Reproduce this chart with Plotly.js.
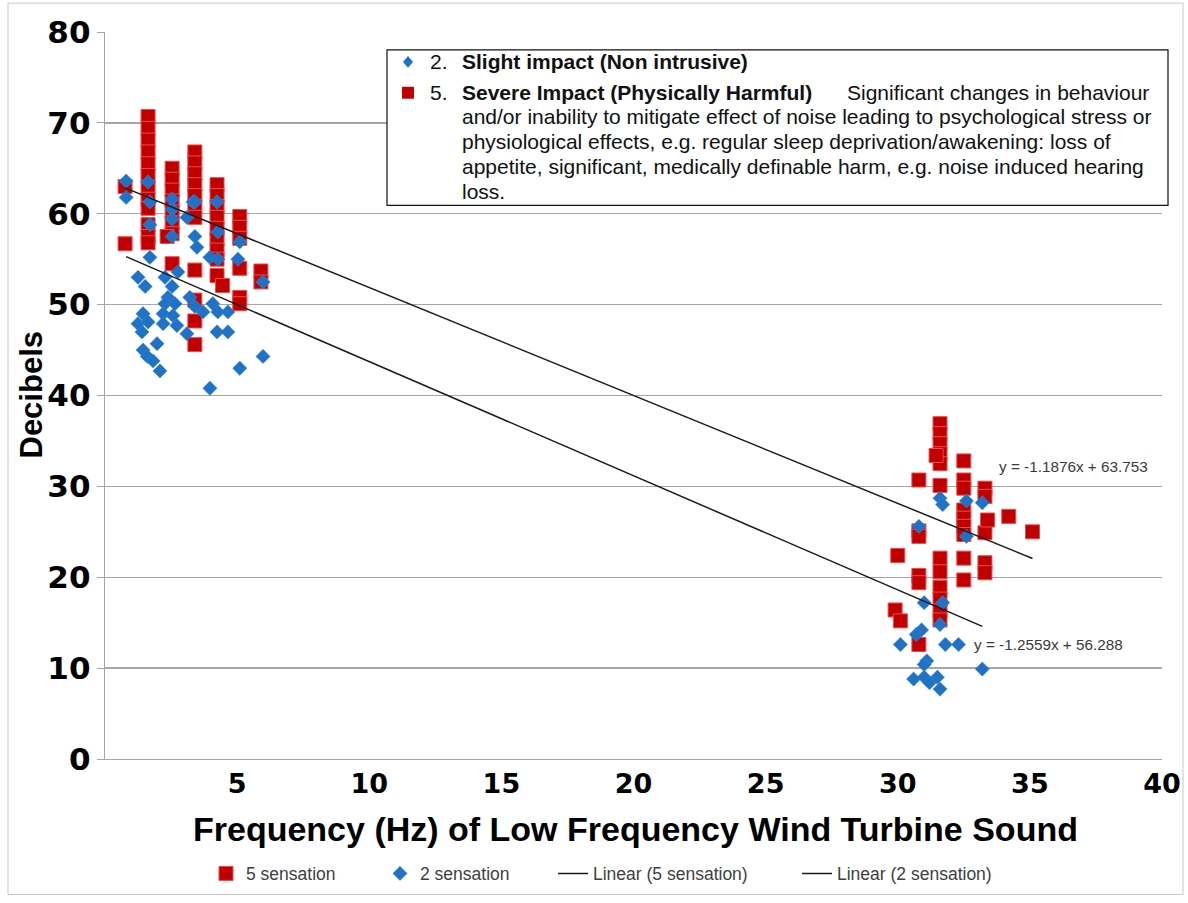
<!DOCTYPE html>
<html>
<head>
<meta charset="utf-8">
<script src="https://cdn.plot.ly/plotly-3.0.1.min.js"></script>
<style>html,body{margin:0;padding:0;background:#fff;}#chart{width:1188px;height:903px;}</style>
</head>
<body>
<div id="chart"></div>
<script>
// ---------- DATA ----------
const sensation5X = [
  0.76, 0.76,
  1.63, 1.63, 1.63, 1.63, 1.63, 1.63, 1.63, 1.63, 1.63, 1.63, 1.63, 1.63,
  2.54, 2.54, 2.54, 2.54, 2.54, 2.54, 2.54, 2.54, 2.35,
  3.40, 3.40, 3.40, 3.40, 3.40, 3.40, 3.40, 3.40, 3.40, 3.40, 3.40,
  4.24, 4.24, 4.24, 4.24, 4.24, 4.24, 4.24, 4.24, 4.24, 4.45,
  5.10, 5.10, 5.10, 5.10, 5.10, 5.10,
  5.90, 5.90,
  30.0, 29.9, 30.1,
  30.8, 30.8, 30.8, 30.8, 30.8, 30.8,
  31.6, 31.6, 31.6, 31.6, 31.6, 31.6, 31.6, 31.6, 31.6, 31.6, 31.6, 31.6, 31.45,
  32.5, 32.5, 32.5, 32.5, 32.5, 32.5, 32.5, 32.5, 32.5,
  33.3, 33.3, 33.3, 33.3, 33.3, 33.4,
  34.2, 35.1
];
const sensation5Y = [
  63.0, 56.7,
  70.7, 69.4, 68.1, 66.8, 65.5, 64.2, 62.9, 61.6, 60.6, 58.8, 57.5, 56.8,
  65.0, 63.8, 62.6, 61.4, 60.2, 59.0, 57.8, 54.5, 57.5,
  66.8, 65.6, 64.4, 63.2, 62.0, 60.8, 59.6, 53.8, 50.5, 48.2, 45.6,
  63.2, 62.0, 60.8, 59.6, 58.4, 57.2, 56.0, 55.0, 53.2, 52.1,
  59.7, 58.5, 57.3, 54.0, 50.8, 50.1,
  53.7, 52.5,
  22.4, 16.4, 15.2,
  30.7, 25.1, 24.5, 20.2, 19.4, 12.6,
  36.9, 35.8, 34.7, 33.6, 32.5, 30.1, 22.1, 20.6, 18.9, 17.6, 16.3, 15.3, 33.4,
  32.8, 30.7, 29.8, 27.4, 26.5, 25.6, 24.7, 22.1, 19.7,
  29.8, 28.9, 24.9, 21.6, 20.5, 26.3,
  26.7, 25.0
];
const sensation2X = [
  0.80, 0.80,
  1.63, 1.70, 1.70, 1.70,
  1.25, 1.52, 1.44, 1.40, 1.44, 1.60, 1.82, 2.08, 1.97, 1.25, 1.63,
  2.54, 2.54, 2.54, 3.10, 3.33, 2.54,
  2.27, 2.76, 2.54, 2.38, 2.27, 2.65, 2.20, 2.57, 2.20, 2.72, 3.10,
  3.40, 4.24, 3.40, 4.27, 5.10,
  3.48, 3.97, 4.27, 5.03, 3.21, 3.40, 3.71, 4.08, 4.27, 4.65, 4.24, 4.65, 5.98, 5.98, 5.10, 3.97,
  31.6, 31.7, 32.6, 33.2, 30.8, 32.6, 31.0, 31.7, 31.6, 30.9, 30.7, 30.1, 31.8, 32.3,
  31.1, 31.0, 33.2, 30.6, 31.0, 31.2, 31.5, 31.6
];
const sensation2Y = [
  63.6, 61.8,
  63.5, 61.3, 58.8, 55.2,
  53.0, 52.0, 49.0, 47.0, 45.0, 44.3, 43.8, 42.7, 45.7, 47.9, 48.1,
  61.6, 60.5, 59.4, 59.6, 61.3, 57.5,
  53.0, 53.6, 52.0, 50.8, 50.1, 50.1, 49.0, 48.8, 47.9, 47.7, 46.8,
  61.3, 61.3, 57.5, 58.0, 56.9,
  56.3, 55.2, 55.0, 55.0, 50.8, 49.8, 49.2, 50.1, 49.2, 49.2, 47.0, 47.0, 52.5, 44.3, 43.0, 40.8,
  28.7, 28.0, 28.4, 28.2, 25.6, 24.5, 17.2, 17.2, 14.8, 14.2, 13.7, 12.6, 12.6, 12.6,
  10.8, 10.4, 9.9, 8.8, 9.0, 8.4, 9.0, 7.7
];
// Trend line coefficients (as printed on chart)
const fit5 = {slope: -1.1876, intercept: 63.753};
const fit2 = {slope: -1.2559, intercept: 56.288};
const fit5Label = 'y = -1.1876x + 63.753';
const fit2Label = 'y = -1.2559x + 56.288';
const xTicks = [5, 10, 15, 20, 25, 30, 35, 40];
const xTitle = 'Frequency (Hz) of Low Frequency Wind Turbine Sound';
const yTitle = 'Decibels';
const seriesNames = ['5 sensation', '2 sensation', 'Linear (5 sensation)', 'Linear (2 sensation)'];
const boxLine1 = ['2.', 'Slight impact (Non intrusive)'];
const boxLine2 = ['5.', 'Severe Impact (Physically Harmful)', 'Significant changes in behaviour'];
const boxMore = [
  'and/or inability to mitigate effect of noise leading to psychological stress or',
  'physiological effects, e.g. regular sleep deprivation/awakening: loss of',
  'appetite, significant, medically definable harm, e.g. noise induced hearing',
  'loss.'
];

// ---------- LAYOUT HELPERS ----------
const W = 1188, H = 903;
const M = {l: 105, r: 26, t: 32, b: 141};
const PW = W - M.l - M.r, PH = H - M.t - M.b;
const px = v => (v - M.l) / PW;           // pixel x -> paper
const py = v => (H - M.b - v) / PH;       // pixel y -> paper

function fitLine(xs, f) {
  const lo = Math.min(...xs), hi = Math.max(...xs);
  return {x: [lo, hi], y: [f.slope * lo + f.intercept, f.slope * hi + f.intercept]};
}
const l5 = fitLine(sensation5X, fit5);
const l2 = fitLine(sensation2X, fit2);

const red = '#C00000', blue = '#1F72C6';

const traces = [
  {x: sensation5X, y: sensation5Y, name: seriesNames[0], type: 'scatter', mode: 'markers', legend: 'legend',
   marker: {symbol: 'square', size: 14, color: red, line: {color: '#F04848', width: 1}}},
  {x: sensation2X, y: sensation2Y, name: seriesNames[1], type: 'scatter', mode: 'markers', legend: 'legend2',
   marker: {symbol: 'diamond', size: 11, color: blue, line: {color: '#3C8AD8', width: 0.5}}},
  {x: l5.x, y: l5.y, name: seriesNames[2], type: 'scatter', mode: 'lines', legend: 'legend3',
   line: {color: '#1a1a1a', width: 1.5}},
  {x: l2.x, y: l2.y, name: seriesNames[3], type: 'scatter', mode: 'lines', legend: 'legend4',
   line: {color: '#1a1a1a', width: 1.5}}
];

const boxFont = {family: 'Liberation Sans, Arial, sans-serif', size: 21, color: '#111'};
const rows = [62, 93, 117, 142, 167, 192];
const labFont = {family: 'Liberation Sans, Arial, sans-serif', size: 15.3, color: '#3a3a3a'};
const titleFont = {family: 'Liberation Sans, Arial, sans-serif', size: 31, color: '#000'};
const annotations = [
  {xref: 'paper', yref: 'paper', x: px(428), y: py(rows[0]), xanchor: 'left', yanchor: 'middle', showarrow: false, text: boxLine1[0], font: boxFont},
  {xref: 'paper', yref: 'paper', x: px(460), y: py(rows[0]), xanchor: 'left', yanchor: 'middle', showarrow: false, text: '<b>' + boxLine1[1] + '</b>', font: boxFont},
  {xref: 'paper', yref: 'paper', x: px(428), y: py(rows[1]), xanchor: 'left', yanchor: 'middle', showarrow: false, text: boxLine2[0], font: boxFont},
  {xref: 'paper', yref: 'paper', x: px(460), y: py(rows[1]), xanchor: 'left', yanchor: 'middle', showarrow: false, text: '<b>' + boxLine2[1] + '</b>', font: boxFont},
  {xref: 'paper', yref: 'paper', x: px(845), y: py(rows[1]), xanchor: 'left', yanchor: 'middle', showarrow: false, text: boxLine2[2], font: boxFont},
  {xref: 'x', yref: 'y', x: 33.75, y: 32.2, xanchor: 'left', yanchor: 'middle', showarrow: false, text: fit5Label, font: labFont},
  {xref: 'x', yref: 'y', x: 32.8, y: 12.6, xanchor: 'left', yanchor: 'middle', showarrow: false, text: fit2Label, font: labFont},
  {xref: 'paper', yref: 'paper', x: px(32), y: py(396), xanchor: 'center', yanchor: 'middle', showarrow: false,
   textangle: -90, text: '<b>' + yTitle + '</b>', font: titleFont},
  {xref: 'paper', yref: 'paper', x: px(635), y: py(832), xanchor: 'center', yanchor: 'middle', showarrow: false,
   text: '<b>' + xTitle + '</b>', font: Object.assign({}, titleFont, {size: 34})}
];
boxMore.forEach((t, i) => annotations.push({xref: 'paper', yref: 'paper', x: px(460), y: py(rows[i + 2]),
  xanchor: 'left', yanchor: 'middle', showarrow: false, text: t, font: boxFont}));

const dx = 408, dy = rows[0];
const shapes = [
  {type: 'rect', xref: 'paper', yref: 'paper', x0: px(8), x1: px(1183), y0: py(3), y1: py(898),
   line: {color: '#c8c8c8', width: 1}, fillcolor: 'rgba(0,0,0,0)', layer: 'below'},
  {type: 'rect', xref: 'paper', yref: 'paper', x0: px(387), x1: px(1168), y0: py(50), y1: py(206),
   line: {color: '#111', width: 1.2}, fillcolor: '#ffffff', layer: 'above'},
  {type: 'path', xref: 'paper', yref: 'paper',
   path: `M ${px(dx)} ${py(dy - 6)} L ${px(dx + 5)} ${py(dy)} L ${px(dx)} ${py(dy + 6)} L ${px(dx - 5)} ${py(dy)} Z`,
   fillcolor: blue, line: {width: 0}, layer: 'above'},
  {type: 'rect', xref: 'paper', yref: 'paper', x0: px(402), x1: px(414), y0: py(rows[1] - 6), y1: py(rows[1] + 6),
   fillcolor: red, line: {width: 0}, layer: 'above'}
];

const legFont = {family: 'Liberation Sans, Arial, sans-serif', size: 17.5, color: '#404040'};
const mkLegend = cx => ({orientation: 'h', x: px(cx - 22), xanchor: 'left', y: py(877), yanchor: 'middle',
  font: legFont, bgcolor: 'rgba(0,0,0,0)', borderwidth: 0});

const layout = {
  width: W, height: H,
  margin: M,
  paper_bgcolor: '#fff', plot_bgcolor: '#fff',
  showlegend: true,
  legend: mkLegend(228),
  legend2: mkLegend(402),
  legend3: mkLegend(575),
  legend4: mkLegend(819),
  xaxis: {range: [0, 40], tickvals: xTicks, showgrid: false, zeroline: false, automargin: false,
    showline: true, linecolor: '#a6a6a6', linewidth: 1.3, ticks: '',
    tickfont: {family: 'DejaVu Sans, sans-serif', size: 27, color: '#000', weight: 'bold'}},
  yaxis: {range: [0, 80], dtick: 10, showgrid: true, gridcolor: '#a6a6a6', gridwidth: 1.3, zeroline: false, automargin: false,
    showline: true, linecolor: '#a6a6a6', linewidth: 1.3, ticks: 'outside', ticklen: 7, tickcolor: '#a6a6a6',
    tickfont: {family: 'DejaVu Sans, sans-serif', size: 31, color: '#000', weight: 'bold'}},
  annotations: annotations,
  shapes: shapes
};

Plotly.newPlot('chart', traces, layout, {displayModeBar: false, staticPlot: true});
</script>
</body>
</html>
